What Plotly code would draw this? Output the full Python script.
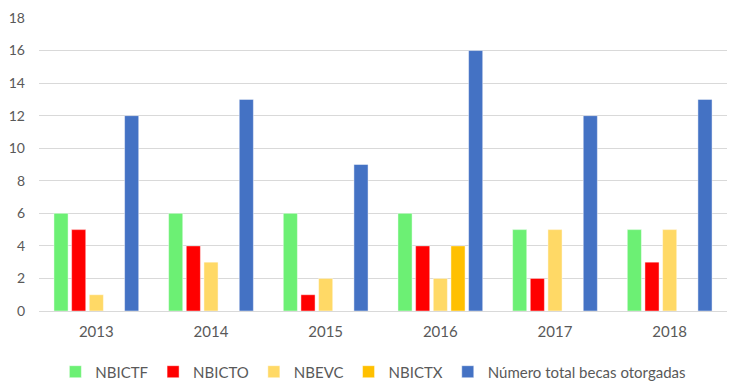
import plotly.graph_objects as go

years = ["2013", "2014", "2015", "2016", "2017", "2018"]
nbictf = [6, 6, 6, 6, 5, 5]
nbicto = [5, 4, 1, 4, 2, 3]
nbevc = [1, 3, 2, 2, 5, 5]
nbictx = [None, None, None, 4, None, None]
total = [12, 13, 9, 16, 12, 13]

series = [
    ("NBICTF", nbictf, "#6CF074"),
    ("NBICTO", nbicto, "#FF0000"),
    ("NBEVC", nbevc, "#FFD966"),
    ("NBICTX", nbictx, "#FFC000"),
    ("Número total becas otorgadas", total, "#4472C4"),
]

fig = go.Figure()
for name, vals, col in series:
    fig.add_trace(go.Bar(
        x=years, y=vals, name=name,
        marker=dict(color=col, line=dict(color="rgba(255,255,255,0.45)", width=1)),
    ))

fig.update_layout(
    width=739, height=390,
    paper_bgcolor="white", plot_bgcolor="white",
    margin=dict(l=31, r=20, t=10, b=87, autoexpand=False),
    barmode="group", bargap=0.23, bargroupgap=0.2,
    font=dict(family="Lato, Liberation Sans, sans-serif", size=15, color="#595959"),
    legend=dict(orientation="h", x=0.486, xanchor="center", y=-0.208, yanchor="middle",
                font=dict(size=15, color="#595959"), itemwidth=30, traceorder="normal"),
    showlegend=True,
)
fig.update_xaxes(showgrid=False, showline=False, ticks="", ticklabelstandoff=10,
                 tickfont=dict(size=15, color="#595959"))
fig.update_yaxes(range=[0, 18], dtick=2, showgrid=True, gridcolor="#D9D9D9", gridwidth=1,
                 zeroline=True, zerolinecolor="#D9D9D9", zerolinewidth=1,
                 tickfont=dict(size=14, color="#595959"), ticks="", ticklabelstandoff=13)

fig.write_html("out.html")
